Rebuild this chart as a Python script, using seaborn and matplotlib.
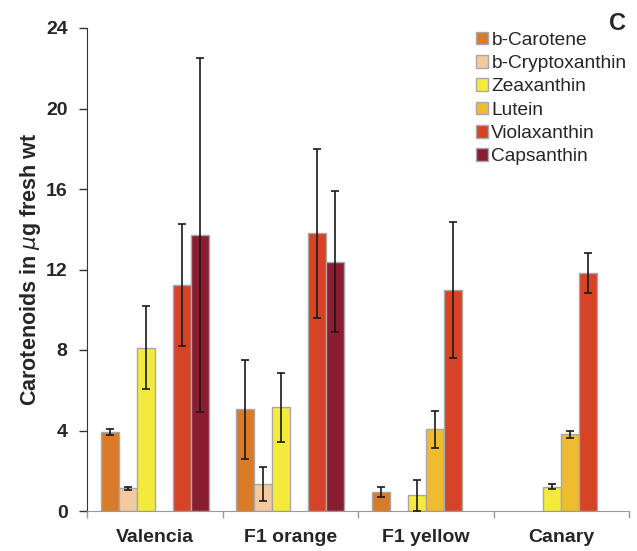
import numpy as np
import pandas as pd
import matplotlib
matplotlib.use("Agg")
import matplotlib.pyplot as plt
import seaborn as sns
from matplotlib.patches import Patch

categories = ["Valencia", "F1 orange", "F1 yellow", "Canary"]
pigments = ["b-Carotene", "b-Cryptoxanthin", "Zeaxanthin", "Lutein", "Violaxanthin", "Capsanthin"]
nan = np.nan
b_carotene      = [3.92, 5.05, 0.95, nan]
b_carotene_err  = [0.15, 2.47, 0.25, nan]
b_crypto        = [1.13, 1.34, nan, nan]
b_crypto_err    = [0.07, 0.84, nan, nan]
zeaxanthin      = [8.12, 5.15, 0.78, 1.21]
zeaxanthin_err  = [2.05, 1.73, 0.77, 0.12]
lutein          = [nan, nan, 4.06, 3.81]
lutein_err      = [nan, nan, 0.91, 0.17]
violaxanthin    = [11.22, 13.80, 10.98, 11.84]
violaxanthin_err= [3.02, 4.20, 3.40, 1.00]
capsanthin      = [13.71, 12.39, nan, nan]
capsanthin_err  = [8.80, 3.50, nan, nan]

colors = ["#D97B28", "#F3C9A0", "#F3EA3C", "#EFBC2F", "#D64428", "#8A1E30"]

series = [b_carotene, b_crypto, zeaxanthin, lutein, violaxanthin, capsanthin]
errs = [b_carotene_err, b_crypto_err, zeaxanthin_err, lutein_err, violaxanthin_err, capsanthin_err]
rows = []
for p, vals, es in zip(pigments, series, errs):
    for c, v, e in zip(categories, vals, es):
        rows.append({"Variety": c, "Pigment": p, "Value": v, "Err": e})
df = pd.DataFrame(rows).dropna()

sns.set_style("white")
plt.rcParams["font.family"] = ["Liberation Sans", "DejaVu Sans"]

fig = plt.figure(figsize=(6.37, 5.51), dpi=100)
ax = fig.add_axes([87/637, 40/551, (629-87)/637, (511-28)/551])

sns.barplot(data=df, x="Variety", y="Value", hue="Pigment", order=categories,
            hue_order=pigments, palette=colors, width=0.8, errorbar=None,
            edgecolor="#A8A8A8", linewidth=1.0, saturation=1, ax=ax, legend=False)

errmap = {(r.Variety, r.Pigment): r.Err for r in df.itertuples()}
bar_containers = list(ax.containers)
for hi, cont in enumerate(bar_containers):
    p = pigments[hi]
    for bar in cont:
        xc = bar.get_x() + bar.get_width() / 2
        h = bar.get_height()
        if not np.isfinite(h):
            continue
        ci = int(round(xc))
        e = errmap.get((categories[ci], p))
        if e is None:
            continue
        ax.errorbar(xc, h, yerr=e, fmt="none", ecolor="#1a1a1a", elinewidth=1.2,
                    capsize=3, capthick=1.2, zorder=5)

ax.set_ylim(0, 24)
ax.set_xlim(-0.5, 3.5)
ax.set_yticks([0, 4, 8, 12, 16, 20, 24])
ax.set_xticks([-0.5, 0.5, 1.5, 2.5, 3.5], minor=False)
ax.set_xticklabels([])
ax.set_xticks([0, 1, 2, 3], minor=True)
ax.set_xticklabels(categories, minor=True, fontsize=14, fontweight="bold")
ax.tick_params(axis="x", which="major", length=5, width=1, color="#999999", direction="out", bottom=True)
ax.tick_params(axis="x", which="minor", length=0, pad=13)
ax.tick_params(axis="y", length=6, width=1, color="#333333", direction="out", left=True,
               labelsize=14, pad=8)
for t in ax.get_yticklabels():
    t.set_fontweight("bold")
ax.set_xlabel("")
ax.set_ylabel(r"Carotenoids in $\mu$g fresh wt", fontsize=15.5, fontweight="bold", labelpad=2)
for s in ["top", "right"]:
    ax.spines[s].set_visible(False)
ax.spines["left"].set_color("#333333")
ax.spines["bottom"].set_color("#999999")

handles = [Patch(facecolor=c, edgecolor="#A8A8A8", label=l) for c, l in zip(colors, pigments)]
ax.legend(handles=handles, loc="upper left", bbox_to_anchor=(0.703, 1.008), frameon=False,
          fontsize=13.8, handlelength=0.62, handleheight=0.62, handletextpad=0.2,
          labelspacing=0.33, borderaxespad=0)

fig.text(618/637, 1 - 23/551, "C", fontsize=17, fontweight="bold", ha="center", va="center")

fig.savefig("out.png", dpi=100)
